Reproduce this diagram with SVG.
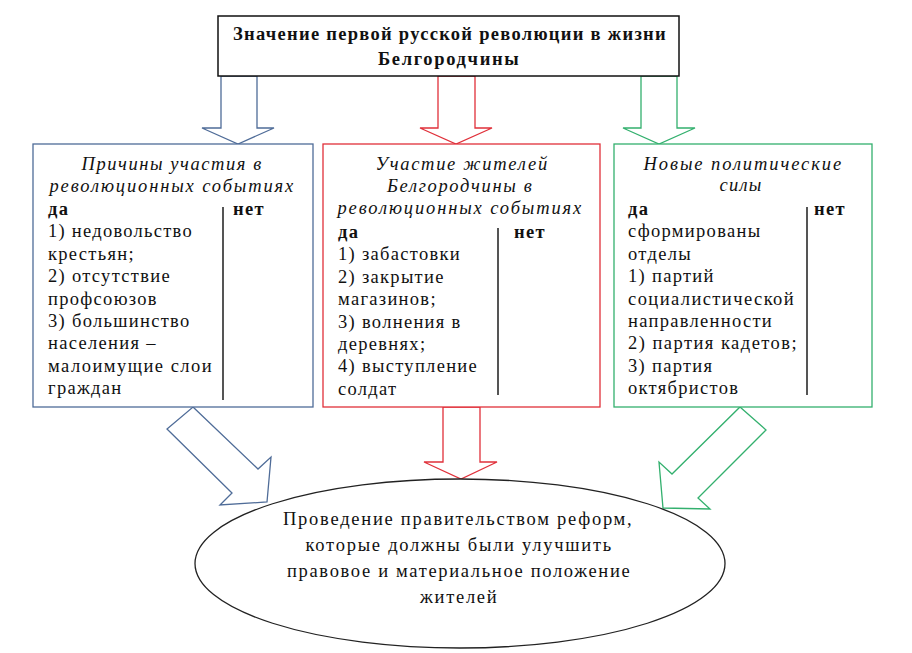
<svg xmlns="http://www.w3.org/2000/svg" width="912" height="653" viewBox="0 0 912 653">
<style>
.t{font-family:"Liberation Serif","DejaVu Serif",serif;font-size:18.5px;fill:#111;letter-spacing:1.3px}
.b{font-weight:bold}
.i{font-style:italic}
.c{text-anchor:middle}
.blue{stroke:#4f6c98;fill:#fff;stroke-width:1.3}
.red{stroke:#e0303a;fill:#fff;stroke-width:1.3}
.green{stroke:#33b06e;fill:#fff;stroke-width:1.3}
.sep{stroke:#555;stroke-width:2}
</style>
<rect width="912" height="653" fill="#fff"/>
<g id="connectors">
<polygon class="blue" points="221,76 257,76 257,128 274,128 238,144 202,128 221,128"/>
<polygon class="red" points="438,76 475,76 475,128 492,128 456,144 420,128 438,128"/>
<polygon class="green" points="641,76 677,76 677,128 695,128 659,144 623,128 641,128"/>
<polygon class="blue" points="193,407 258,469 271,457 267,502 220,505 232,493 167,429"/>
<polygon class="red" points="443,407 480,407 480,462 497,462 461,479 424,462 443,462"/>
<polygon class="green" points="740,407 766,430 698,498 710,509 663,508 659,462 672,474"/>
</g>
<g id="title">
<rect x="218" y="16" width="461" height="60" fill="#fff" stroke="#111" stroke-width="1.5"/>
<text class="t b c" x="450" y="40" textLength="434">Значение первой русской революции в жизни</text>
<text class="t b c" x="449" y="65" textLength="142">Белгородчины</text>
</g>
<g id="causes">
<rect x="33" y="144" width="280" height="263" class="blue"/>
<text class="t i c" x="172" y="170" textLength="181">Причины участия в</text>
<text class="t i c" x="172" y="192" textLength="245">революционных событиях</text>
<line class="sep" x1="223" y1="207" x2="223" y2="400"/>
<text class="t b" x="48" y="215">да</text>
<text class="t b" x="233" y="215">нет</text>
<text class="t" x="48" y="237.4" textLength="145">1) недовольство</text>
<text class="t" x="48" y="259.8">крестьян;</text>
<text class="t" x="48" y="282.2">2) отсутствие</text>
<text class="t" x="48" y="304.6">профсоюзов</text>
<text class="t" x="48" y="327">3) большинство</text>
<text class="t" x="48" y="349.4">населения –</text>
<text class="t" x="48" y="371.8" textLength="165">малоимущие слои</text>
<text class="t" x="48" y="394.2">граждан</text>
</g>
<g id="participation">
<rect x="323" y="144" width="277" height="263" class="red" stroke="#d0202e"/>
<text class="t i c" x="462" y="170" textLength="173">Участие жителей</text>
<text class="t i c" x="460" y="192" textLength="146">Белгородчины в</text>
<text class="t i c" x="460" y="213.5" textLength="245">революционных событиях</text>
<line class="sep" x1="498" y1="228" x2="498" y2="395"/>
<text class="t b" x="338" y="238">да</text>
<text class="t b" x="514" y="238">нет</text>
<text class="t" x="338" y="260.4">1) забастовки</text>
<text class="t" x="338" y="282.8">2) закрытие</text>
<text class="t" x="338" y="305.2">магазинов;</text>
<text class="t" x="338" y="327.6">3) волнения в</text>
<text class="t" x="338" y="350">деревнях;</text>
<text class="t" x="338" y="372.4">4) выступление</text>
<text class="t" x="338" y="394.8">солдат</text>
</g>
<g id="forces">
<rect x="614" y="144" width="258" height="263" class="green"/>
<text class="t i c" x="743" y="170" textLength="199">Новые политические</text>
<text class="t i c" x="741" y="191" textLength="43">силы</text>
<line class="sep" x1="807" y1="207" x2="807" y2="395"/>
<text class="t b" x="628" y="215">да</text>
<text class="t b" x="814" y="215">нет</text>
<text class="t" x="628" y="237.4">сформированы</text>
<text class="t" x="628" y="259.8">отделы</text>
<text class="t" x="628" y="282.2">1) партий</text>
<text class="t" x="628" y="304.6" textLength="167">социалистической</text>
<text class="t" x="628" y="327">направленности</text>
<text class="t" x="628" y="349.4" textLength="170">2) партия кадетов;</text>
<text class="t" x="628" y="371.8">3) партия</text>
<text class="t" x="628" y="394.2">октябристов</text>
</g>
<g id="result">
<ellipse cx="460" cy="563.5" rx="265" ry="84.5" fill="#fff" stroke="#222" stroke-width="1.3"/>
<text class="t c" x="458" y="525" textLength="350">Проведение правительством реформ,</text>
<text class="t c" x="459" y="551" textLength="307">которые должны были улучшить</text>
<text class="t c" x="459" y="577" textLength="344">правовое и материальное положение</text>
<text class="t c" x="459" y="603" textLength="78">жителей</text>
</g>
</svg>
